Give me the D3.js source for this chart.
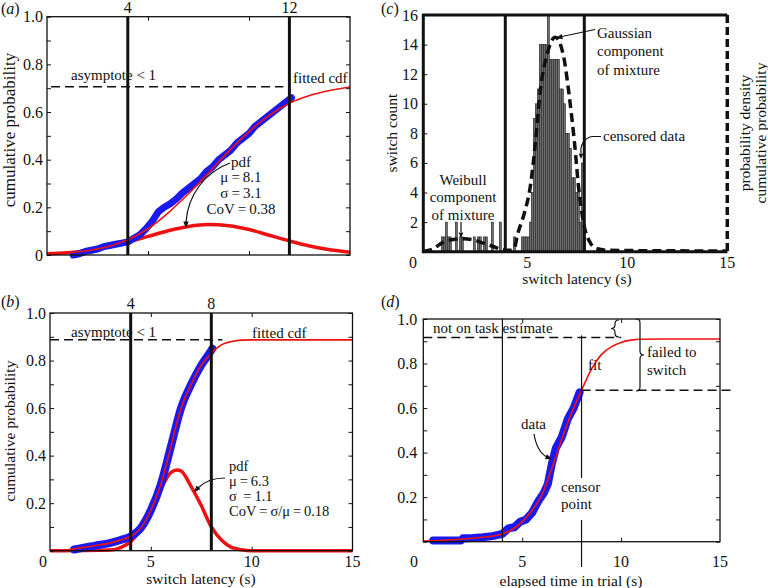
<!DOCTYPE html>
<html><head><meta charset="utf-8">
<script src="https://cdn.jsdelivr.net/npm/d3@7"></script>
<style>
body{margin:0;background:#fff}
text{font-family:"Liberation Serif","DejaVu Serif","Times New Roman",serif;fill:#111}
</style>
</head><body>
<svg id="chart" width="768" height="588" font-family="Liberation Serif, DejaVu Serif, serif"></svg>
<script>
// ---------------- DATA ----------------
// Panel (a)
const aCdfX = [0,1,2,3,4,5,6,7,8,9,10,11,12,13,14,15];
const aCdfY = [0.004,0.009,0.018,0.035,0.064,0.11,0.177,0.257,0.345,0.436,0.518,0.586,0.637,0.669,0.69,0.705];
const aPdfX = [0,1,2,3,4,5,6,7,8,9,10,11,12,13,14,15];
const aPdfY = [0.005,0.009,0.019,0.033,0.054,0.078,0.102,0.12,0.128,0.123,0.107,0.083,0.059,0.038,0.022,0.012];
const aDataX = [1.3,1.6,1.9,2.2,2.5,2.8,3.1,3.4,3.7,4.0,4.3,4.6,4.9,5.2,5.5,5.8,6.1,6.4,6.7,7.0,7.3,7.6,7.9,8.2,8.5,8.8,9.1,9.4,9.7,10.0,10.3,10.6,10.9,11.2,11.5,11.8,12.1];
const aDataY = [0.0,0.005,0.015,0.02,0.025,0.035,0.04,0.045,0.05,0.055,0.07,0.085,0.11,0.14,0.18,0.2,0.215,0.235,0.26,0.28,0.3,0.32,0.35,0.37,0.4,0.42,0.44,0.47,0.49,0.51,0.54,0.56,0.58,0.6,0.62,0.64,0.66];
const aAsymptote = 0.706;
const aMarkers = [4, 12];

// Panel (b)
const bCdfX = [0,0.5,1,1.5,2,2.5,3,3.5,4,4.5,5,5.5,6,6.5,7,7.5,8,8.5,9,9.5,10,15];
const bCdfY = [0,0.002,0.005,0.012,0.018,0.025,0.033,0.045,0.06,0.095,0.17,0.28,0.44,0.6,0.7,0.78,0.83,0.866,0.88,0.886,0.887,0.887];
const bPdfX = [0,3,3.5,4,4.5,5,5.5,6,6.3,6.5,7,7.5,8,8.5,9,9.5,10,15];
const bPdfY = [0,0.003,0.013,0.038,0.089,0.169,0.26,0.33,0.34,0.335,0.27,0.19,0.1,0.045,0.014,0.004,0,0];
const bDataX = [1.2,1.5,2,2.5,3,3.5,4,4.5,5,5.5,6,6.5,7,7.5,7.9,8.05];
const bDataY = [0.005,0.01,0.018,0.025,0.033,0.045,0.06,0.095,0.17,0.28,0.44,0.6,0.7,0.78,0.83,0.85];
const bAsymptote = 0.887;
const bMarkers = [4, 8];

// Panel (c) histogram: bins of 0.1 s starting at binStart
const cBinStart = [0.7,0.8,0.9,1.0,1.1,1.4,1.6,1.7,2.3,2.5,2.6,2.8,2.9,3.2,3.6,
  4.3,4.7,4.8,4.9,5.0,5.1,5.2,5.3,5.4,5.5,5.6,5.7,5.8,5.9,6.0,6.1,6.2,6.3,6.4,6.5,6.6,6.7,6.8,6.9,7.0,7.1,7.2,7.3,7.4,7.5,7.6,7.7,7.8];
const cCounts = [1,1,2,1,1,2,1,1,1,1,1,1,1,2,2,
  1,1,1,1,1,2,4,9,10,11,14,14,14,14,16,13,13,13,13,13,11,11,10,8,8,7,5,5,4,4,2,6,1];
const cCurveX = [-0.2,0.3,0.8,1.3,1.8,2.3,2.8,3.3,3.7,4.15,4.35,4.5,4.85,5.15,5.4,5.65,6.0,6.4,6.8,7.1,7.35,7.6,7.85,8.15,8.5,9,10,12,15];
const cCurveY = [0.02,0.2,0.65,0.82,0.88,0.8,0.58,0.35,0.16,0.1,0.2,1.1,2.6,4.4,7.3,10.9,13.4,14.5,13.3,10.5,7.5,3.9,1.7,0.6,0.2,0.1,0.08,0.06,0.05];
const cMarkers = [3.9, 7.85];

// Panel (d)
const dFitX = [0,1,2,3,4,4.5,5,5.5,6,6.5,7,7.5,8,8.5,9,9.5,10,10.5,11,12,15];
const dFitY = [0.003,0.006,0.012,0.02,0.035,0.055,0.09,0.14,0.21,0.33,0.46,0.58,0.68,0.775,0.84,0.875,0.895,0.905,0.909,0.91,0.91];
const dDataX = [0.5,1.0,1.5,1.9,2.0,2.5,3.0,3.5,4.0,4.3,4.6,4.9,5.2,5.5,5.8,6.1,6.3,6.5,6.7,7.0,7.3,7.6,7.9];
const dDataY = [0.005,0.005,0.005,0.005,0.015,0.017,0.02,0.025,0.035,0.06,0.065,0.09,0.1,0.13,0.18,0.22,0.26,0.35,0.42,0.47,0.55,0.6,0.67];
const dNotOnTask = 0.917;
const dCensorLevel = 0.68;
const dMarkers = [4, 8];

const yTicksProb = [0,0.1,0.2,0.3,0.4,0.5,0.6,0.7,0.8,0.9,1.0];
const yLabelsProb = ["0","","0.2","","0.4","","0.6","","0.8","","1.0"];
const xTicks = [0,5,10,15];
const cYTicks = [0,2,4,6,8,10,12,14,16];

// ---------------- DRAW ----------------
const svg = d3.select("#chart");
const FS = 16, AFS = 15;
const red = "#ee1111", blue = "#1a1aee";
const zip = (xs, ys) => xs.map((x, i) => [x, ys[i]]);

function frame(g, x, y, opts) {
  const [x0, x1] = x.range(), [y0, y1] = y.range();
  const yt = opts.yTicks, xt = opts.xTicks;
  const mk = (axis, tr) => g.append("g").attr("transform", tr)
    .call(axis.tickSize(-opts.tl).tickFormat("").tickSizeOuter(0))
    .call(s => s.select(".domain").remove());
  mk(d3.axisLeft(y).tickValues(yt), `translate(${x0},0)`);
  mk(d3.axisRight(y).tickValues(yt), `translate(${x1},0)`);
  mk(d3.axisBottom(x).tickValues(xt), `translate(0,${y0})`);
  mk(d3.axisTop(x).tickValues(xt), `translate(0,${y1})`);
  g.selectAll(".tick line").attr("stroke", "#111").attr("stroke-width", 1);
}

function yLabels(g, y, x0, vals, labels, dx) {
  vals.forEach((v, i) => {
    if (!labels[i]) return;
    g.append("text").attr("x", x0 - dx).attr("y", y(v) + 5.5).attr("text-anchor", "end")
      .attr("font-size", FS).text(labels[i]);
  });
}

function arrowHead(g, tip, angleDeg, size) {
  const a = angleDeg * Math.PI / 180, s = size || 7;
  const p1 = [tip[0] - s * Math.cos(a - 0.4), tip[1] - s * Math.sin(a - 0.4)];
  const p2 = [tip[0] - s * Math.cos(a + 0.4), tip[1] - s * Math.sin(a + 0.4)];
  g.append("path").attr("d", `M${p1}L${tip}L${p2}Z`).attr("fill", "#111");
}

// ===== Panel (a) =====
{
  const g = svg.append("g");
  const x = d3.scaleLinear().domain([0, 15]).range([47, 350]);
  const y = d3.scaleLinear().domain([0, 1]).range([255, 16.7]);
  const line = d3.line().x(d => x(d[0])).y(d => y(d[1]));
  const sline = d3.line().x(d => x(d[0])).y(d => y(d[1])).curve(d3.curveMonotoneX);
  g.append("path").attr("d", sline(zip(aPdfX, aPdfY))).attr("fill", "none").attr("stroke", red).attr("stroke-width", 3.5);
  g.append("path").attr("d", line(zip(aDataX, aDataY))).attr("fill", "none").attr("stroke", blue)
    .attr("stroke-width", 7).attr("stroke-linejoin", "round").attr("stroke-linecap", "round");
  g.append("path").attr("d", sline(zip(aCdfX, aCdfY))).attr("fill", "none").attr("stroke", red).attr("stroke-width", 1.6);
  g.append("line").attr("x1", x(0.2)).attr("x2", x(11.7)).attr("y1", y(aAsymptote)).attr("y2", y(aAsymptote))
    .attr("stroke", "#111").attr("stroke-width", 1.5).attr("stroke-dasharray", "9,5");
  aMarkers.forEach(m => {
    g.append("line").attr("x1", x(m)).attr("x2", x(m)).attr("y1", y(1)).attr("y2", y(0)).attr("stroke", "#111").attr("stroke-width", 3);
    g.append("text").attr("x", x(m)).attr("y", 12.5).attr("text-anchor", "middle").attr("font-size", FS).text(m);
  });
  g.append("rect").attr("x", x(0)).attr("y", y(1)).attr("width", x(15) - x(0)).attr("height", y(0) - y(1))
    .attr("fill", "none").attr("stroke", "#111").attr("stroke-width", 1.3);
  frame(g, x, y, {yTicks: yTicksProb, xTicks: [5, 10], tl: 4});
  yLabels(g, y, x(0), yTicksProb, yLabelsProb, 4);
  g.append("text").attr("transform", "translate(15,130) rotate(-90)").attr("text-anchor", "middle").attr("font-size", 17).text("cumulative probability");
  g.append("text").attr("x", 1).attr("y", 14).attr("font-size", FS).html('(<tspan font-style="italic">a</tspan>)');
  g.append("text").attr("x", 71).attr("y", 80).attr("font-size", AFS).text("asymptote < 1");
  g.append("text").attr("x", 293).attr("y", 83).attr("font-size", AFS).text("fitted cdf");
  const lines = [["pdf", 167], ["\u03bc\u2009=\u20098.1", 182], ["\u03c3\u2009=\u20093.1", 198], ["CoV\u2009=\u20090.38", 214]];
  lines.forEach(([t, yy]) => g.append("text").attr("x", 241).attr("y", yy).attr("text-anchor", "middle").attr("font-size", AFS).text(t));
  g.append("path").attr("d", "M230,163 C205,172 188,195 186,222").attr("fill", "none").attr("stroke", "#111").attr("stroke-width", 1.2);
  arrowHead(g, [186, 228], 90, 7);
}

// ===== Panel (b) =====
{
  const g = svg.append("g");
  const x = d3.scaleLinear().domain([0, 15]).range([50, 352.5]);
  const y = d3.scaleLinear().domain([0, 1]).range([550.7, 313]);
  const sline = d3.line().x(d => x(d[0])).y(d => y(d[1])).curve(d3.curveMonotoneX);
  g.append("path").attr("d", sline(zip(bPdfX, bPdfY))).attr("fill", "none").attr("stroke", red).attr("stroke-width", 3.5);
  g.append("path").attr("d", sline(zip(bDataX, bDataY))).attr("fill", "none").attr("stroke", blue)
    .attr("stroke-width", 8).attr("stroke-linejoin", "round").attr("stroke-linecap", "round");
  g.append("path").attr("d", sline(zip(bCdfX, bCdfY))).attr("fill", "none").attr("stroke", red).attr("stroke-width", 1.6);
  g.append("line").attr("x1", x(0)).attr("x2", x(8.55)).attr("y1", y(bAsymptote)).attr("y2", y(bAsymptote))
    .attr("stroke", "#111").attr("stroke-width", 1.5).attr("stroke-dasharray", "9,5");
  bMarkers.forEach(m => {
    g.append("line").attr("x1", x(m)).attr("x2", x(m)).attr("y1", y(1)).attr("y2", y(0)).attr("stroke", "#111").attr("stroke-width", 3);
    g.append("text").attr("x", x(m)).attr("y", 308.5).attr("text-anchor", "middle").attr("font-size", FS).text(m);
  });
  g.append("rect").attr("x", x(0)).attr("y", y(1)).attr("width", x(15) - x(0)).attr("height", y(0) - y(1))
    .attr("fill", "none").attr("stroke", "#111").attr("stroke-width", 1.3);
  frame(g, x, y, {yTicks: yTicksProb, xTicks: [5, 10], tl: 4});
  yLabels(g, y, x(0), yTicksProb.slice(1), yLabelsProb.slice(1), 4);
  xTicks.forEach(v => g.append("text").attr("x", x(v) - (v === 0 ? 7 : 0)).attr("y", 567).attr("text-anchor", "middle").attr("font-size", FS).text(v));
  g.append("text").attr("x", 201).attr("y", 584).attr("text-anchor", "middle").attr("font-size", 15.5).text("switch latency (s)");
  g.append("text").attr("transform", "translate(15,431) rotate(-90)").attr("text-anchor", "middle").attr("font-size", 15.5).text("cumulative probability");
  g.append("text").attr("x", 1).attr("y", 307).attr("font-size", FS).html('(<tspan font-style="italic">b</tspan>)');
  g.append("text").attr("x", 71).attr("y", 337).attr("font-size", AFS).text("asymptote < 1");
  g.append("text").attr("x", 252).attr("y", 338).attr("font-size", AFS).text("fitted cdf");
  const lines = [["pdf", 471], ["\u03bc\u2009=\u20096.3", 486], ["\u03c3\u2009 =\u20091.1", 501], ["CoV\u2009=\u2009\u03c3/\u03bc\u2009=\u20090.18", 516]];
  lines.forEach(([t, yy]) => g.append("text").attr("x", 229).attr("y", yy).attr("font-size", 14.5).text(t));
  g.append("path").attr("d", "M225,478 C213,478 204,482 198,488").attr("fill", "none").attr("stroke", "#111").attr("stroke-width", 1.2);
  arrowHead(g, [194, 492], 135, 7);
}

// ===== Panel (c) =====
{
  const g = svg.append("g");
  const x = d3.scaleLinear().domain([-0.2, 15]).range([423.3, 727.3]);
  const y = d3.scaleLinear().domain([0, 16]).range([251.7, 15]);
  const bw = 0.1;
  g.selectAll("rect.bar").data(zip(cBinStart, cCounts)).join("rect").attr("class", "bar")
    .attr("x", d => x(d[0])).attr("width", x(bw) - x(0)).attr("y", d => y(d[1])).attr("height", d => y(0) - y(d[1]))
    .attr("fill", "#6e6e6e").attr("stroke", "#222").attr("stroke-width", 0.6);
  const sline = d3.line().x(d => x(d[0])).y(d => y(d[1])).curve(d3.curveMonotoneX);
  g.append("path").attr("d", sline(zip(cCurveX, cCurveY))).attr("fill", "none").attr("stroke", "#111")
    .attr("stroke-width", 3.5).attr("stroke-dasharray", "9,5");
  cMarkers.forEach(m => g.append("line").attr("x1", x(m)).attr("x2", x(m)).attr("y1", y(16)).attr("y2", y(0)).attr("stroke", "#111").attr("stroke-width", 3));
  const [x0, x1] = x.range(), [y0, y1] = y.range();
  g.append("path").attr("d", `M${x1},${y1}L${x0},${y1}L${x0},${y0}L${x1},${y0}`).attr("fill", "none").attr("stroke", "#111").attr("stroke-width", 3);
  g.append("line").attr("x1", x1).attr("x2", x1).attr("y1", y1).attr("y2", y0).attr("stroke", "#111").attr("stroke-width", 3.5).attr("stroke-dasharray", "8,4");
  g.append("g").attr("transform", `translate(${x0},0)`)
    .call(d3.axisLeft(y).tickValues(cYTicks).tickSize(-4).tickFormat("").tickSizeOuter(0))
    .call(s => s.select(".domain").remove())
    .call(s => s.selectAll(".tick line").attr("stroke", "#111"));
  cYTicks.slice(1).forEach(v => g.append("text").attr("x", 418).attr("y", y(v) + 5.5).attr("text-anchor", "end").attr("font-size", FS).text(v));
  xTicks.forEach(v => g.append("text").attr("x", v === 0 ? 413 : x(v)).attr("y", 268).attr("text-anchor", "middle").attr("font-size", FS).text(v));
  g.append("text").attr("x", 577).attr("y", 284).attr("text-anchor", "middle").attr("font-size", 15.5).text("switch latency (s)");
  g.append("text").attr("transform", "translate(397,133) rotate(-90)").attr("text-anchor", "middle").attr("font-size", 15.5).text("switch count");
  g.append("text").attr("transform", "translate(750,133) rotate(-90)").attr("text-anchor", "middle").attr("font-size", 15.5).text("probability density");
  g.append("text").attr("transform", "translate(766,133) rotate(-90)").attr("text-anchor", "middle").attr("font-size", 15.5).text("cumulative probability");
  g.append("text").attr("x", 381).attr("y", 14).attr("font-size", FS).html('(<tspan font-style="italic">c</tspan>)');
  [["Gaussian", 38], ["component", 56], ["of mixture", 75]].forEach(([t, yy]) => g.append("text").attr("x", 597).attr("y", yy).attr("font-size", AFS).text(t));
  g.append("line").attr("x1", 595).attr("y1", 29.5).attr("x2", 562).attr("y2", 36.5).attr("stroke", "#111").attr("stroke-width", 1.2);
  arrowHead(g, [556, 38], 168, 7);
  g.append("text").attr("x", 603).attr("y", 141).attr("font-size", AFS).text("censored data");
  g.append("path").attr("d", "M601,136.5 L592,136.5 C584,138 580,146 581,153").attr("fill", "none").attr("stroke", "#111").attr("stroke-width", 1.2);
  arrowHead(g, [581, 159], 90, 6);
  [["Weibull", 185], ["component", 202], ["of mixture", 220]].forEach(([t, yy]) => g.append("text").attr("x", 463).attr("y", yy).attr("text-anchor", "middle").attr("font-size", AFS).text(t));
  g.append("line").attr("x1", 461).attr("y1", 222).attr("x2", 461).attr("y2", 232).attr("stroke", "#111").attr("stroke-width", 1.2);
  arrowHead(g, [461, 238], 90, 6);
}

// ===== Panel (d) =====
{
  const g = svg.append("g");
  const x = d3.scaleLinear().domain([0, 15]).range([423.3, 720]);
  const y = d3.scaleLinear().domain([0, 1]).range([541.7, 319]);
  const line = d3.line().x(d => x(d[0])).y(d => y(d[1]));
  const sline = d3.line().x(d => x(d[0])).y(d => y(d[1])).curve(d3.curveMonotoneX);
  g.append("path").attr("d", line(zip(dDataX, dDataY))).attr("fill", "none").attr("stroke", blue)
    .attr("stroke-width", 8).attr("stroke-linejoin", "round").attr("stroke-linecap", "round");
  g.append("path").attr("d", sline(zip(dFitX, dFitY))).attr("fill", "none").attr("stroke", red).attr("stroke-width", 1.6);
  g.append("line").attr("x1", x(0)).attr("x2", x(10)).attr("y1", y(dNotOnTask)).attr("y2", y(dNotOnTask))
    .attr("stroke", "#111").attr("stroke-width", 1.5).attr("stroke-dasharray", "9,5");
  g.append("line").attr("x1", x(8)).attr("x2", x(15.6)).attr("y1", y(dCensorLevel)).attr("y2", y(dCensorLevel))
    .attr("stroke", "#111").attr("stroke-width", 1.5).attr("stroke-dasharray", "9,5");
  g.append("line").attr("x1", x(dMarkers[0])).attr("x2", x(dMarkers[0])).attr("y1", y(1)).attr("y2", y(0)).attr("stroke", "#111").attr("stroke-width", 1.2);
  g.append("line").attr("x1", x(dMarkers[1])).attr("x2", x(dMarkers[1])).attr("y1", 335.5).attr("y2", 478).attr("stroke", "#111").attr("stroke-width", 1.2);
  g.append("line").attr("x1", x(dMarkers[1])).attr("x2", x(dMarkers[1])).attr("y1", 520).attr("y2", 567).attr("stroke", "#111").attr("stroke-width", 1.2);
  g.append("rect").attr("x", x(0)).attr("y", y(1)).attr("width", x(15) - x(0)).attr("height", y(0) - y(1))
    .attr("fill", "none").attr("stroke", "#111").attr("stroke-width", 1.3);
  frame(g, x, y, {yTicks: yTicksProb, xTicks: [5, 10], tl: 4});
  yLabels(g, y, x(0), yTicksProb.slice(1), yLabelsProb.slice(1), 6);
  xTicks.forEach(v => g.append("text").attr("x", v === 0 ? 414 : x(v)).attr("y", 567).attr("text-anchor", "middle").attr("font-size", FS).text(v));
  g.append("text").attr("x", 571).attr("y", 586).attr("text-anchor", "middle").attr("font-size", 15.5).text("elapsed time in trial (s)");
  g.append("text").attr("x", 381).attr("y", 307).attr("font-size", FS).html('(<tspan font-style="italic">d</tspan>)');
  g.append("text").attr("x", 433).attr("y", 333).attr("font-size", AFS).text("not on task estimate");
  g.append("text").attr("x", 588).attr("y", 370).attr("font-size", AFS).text("fit");
  g.append("text").attr("x", 521).attr("y", 429).attr("font-size", AFS).text("data");
  g.append("path").attr("d", "M534,434 C536,446 541,454 547,457").attr("fill", "none").attr("stroke", "#111").attr("stroke-width", 1.2);
  arrowHead(g, [552, 459], 20, 7);
  g.append("text").attr("x", 561).attr("y", 492).attr("font-size", AFS).text("censor");
  g.append("text").attr("x", 561).attr("y", 509).attr("font-size", AFS).text("point");
  g.append("text").attr("x", 647).attr("y", 357).attr("font-size", AFS).text("failed to");
  g.append("text").attr("x", 647).attr("y", 375).attr("font-size", AFS).text("switch");
  const brace = (xx, ya, yb, dir) => {
    const m = (ya + yb) / 2, w = 4 * dir;
    return `M${xx - w},${ya} C${xx},${ya} ${xx},${ya + 2} ${xx},${ya + 5} L${xx},${m - 4} C${xx},${m - 1} ${xx + w * 0.5},${m} ${xx + w},${m} C${xx + w * 0.5},${m} ${xx},${m + 1} ${xx},${m + 4} L${xx},${yb - 5} C${xx},${yb - 2} ${xx},${yb} ${xx - w},${yb}`;
  };
  g.append("path").attr("d", brace(615, 320, 337, -1)).attr("fill", "none").attr("stroke", "#111").attr("stroke-width", 1.2);
  g.append("path").attr("d", brace(640, 319, 391, 1)).attr("fill", "none").attr("stroke", "#111").attr("stroke-width", 1.2);
}
</script>
</body></html>
